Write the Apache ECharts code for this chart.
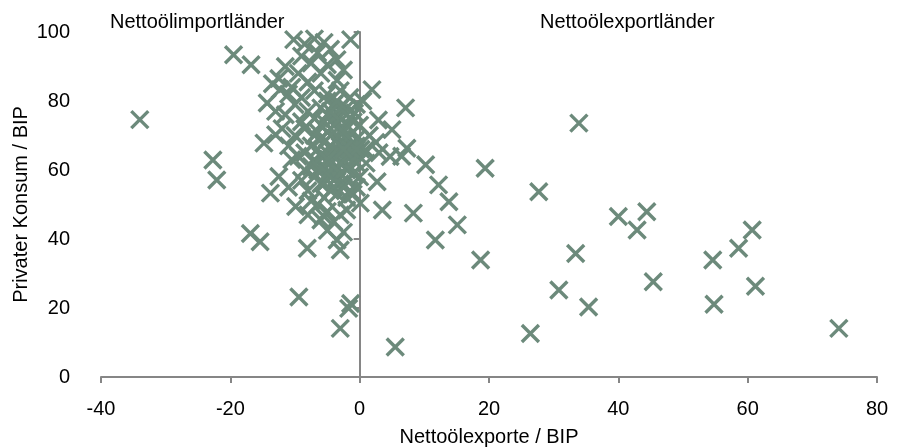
<!DOCTYPE html>
<html>
<head>
<meta charset="utf-8">
<script src="https://cdn.jsdelivr.net/npm/echarts@6/dist/echarts.min.js"></script>
<style>html,body{margin:0;padding:0;background:#fff}#c{width:906px;height:448px}</style>
</head>
<body>
<div id="c"></div>
<script>
// Net oil exports / GDP (x) vs private consumption / GDP (y)
const netOilExports = [
  -34.0,-19.5,-16.8,-22.7,-22.1,
  -10.2,-8.5,-7.0,-5.5,-4.5,-6.5,-9.0,-3.5,-7.5,-11.5,-5.0,-2.5,-9.5,-6.0,-12.5,-3.5,-8.0,-1.4,-13.5,-10.5,
  -12.3,-14.3,-11.0,-9.0,-7.0,-5.0,-3.0,-1.5,-0.5,0.5,-2.0,-4.0,-6.0,-8.0,-10.0,-11.5,-13.0,1.9,2.9,-0.8,-3.0,-5.0,-7.0,-9.0,
  -13.0,-14.8,-12.0,-10.0,-11.0,-8.5,-7.0,-6.0,-5.0,-4.0,-3.0,-2.0,-1.0,0.0,-0.5,-1.5,-2.5,-3.5,-4.5,-5.5,-6.5,-7.5,-8.5,-9.5,-10.5,
  -7.0,-6.0,-5.0,-4.0,-3.0,-2.0,-1.0,0.2,0.9,-0.5,-1.5,-2.5,-3.5,-4.5,-5.5,-6.5,-7.5,-8.5,
  5.0,7.3,4.7,10.2,6.5,1.5,2.5,1.0,3.0,-12.5,7.1,
  -4.0,-3.0,-2.0,-1.0,-3.0,-2.0,-4.0,-5.0,-6.0,-4.0,-2.0,-1.0,-3.0,-5.0,-2.5,-3.5,-1.5,-4.5,-5.5,-0.5,
  -5.5,-4.5,-3.5,-2.5,-1.5,-0.5,-6.0,-5.0,-4.0,-3.0,-2.0,-1.0,-6.5,-4.5,-2.5,
  -13.8,-9.9,-11.0,-9.0,-8.0,-7.0,-6.0,-5.0,-4.0,-3.0,-2.0,-1.0,0.0,-0.5,-1.5,-2.5,-3.5,-4.5,-5.5,-6.5,-7.5,
  -5.0,-3.0,-2.0,0.1,2.7,3.5,8.3,12.2,13.8,15.1,11.7,18.7,19.4,-4.0,-6.0,-8.0,-5.6,
  -16.9,-15.4,-8.1,-3.0,-3.5,-9.4,-1.4,-1.7,-3.0,5.5,-2.5,-5.0,
  33.9,27.7,40.0,44.4,42.9,45.4,54.6,58.6,60.7,61.2,54.8,74.1,33.4,30.8,35.4,26.4
];
const privateConsumption = [
  74.6,93.4,90.5,62.9,57.1,
  97.8,96.5,98.0,97.0,95.0,94.0,93.0,92.0,91.0,90.0,90.5,89.0,88.0,88.0,86.5,86.0,85.5,97.8,85.0,84.0,
  83.3,79.4,82.0,81.0,83.0,82.0,83.0,81.0,79.0,80.0,78.0,79.0,78.0,77.0,79.0,76.0,77.0,83.3,74.5,76.5,75.5,76.0,75.0,74.0,
  70.2,67.8,72.0,70.0,67.0,72.0,70.0,73.0,71.0,73.0,71.0,73.0,71.0,73.0,69.0,67.0,68.0,69.0,67.0,68.0,66.0,67.0,65.0,64.0,63.0,
  63.0,64.0,65.0,64.0,65.0,64.0,65.0,66.0,65.8,62.0,61.0,62.0,61.0,62.0,61.0,60.0,61.0,60.0,
  71.7,66.3,63.9,61.5,64.0,70.0,68.0,62.0,65.0,58.1,78.0,
  66.0,67.0,69.0,63.0,62.0,60.0,60.0,63.0,69.0,75.0,76.0,74.0,78.0,80.0,72.0,58.0,66.0,70.0,56.0,67.0,
  74.0,77.0,80.0,71.0,75.0,66.0,60.0,57.0,55.0,56.0,52.0,53.0,71.0,72.0,66.0,
  53.3,49.4,55.0,57.0,54.0,58.0,56.0,59.0,57.0,59.0,57.0,59.0,58.0,55.0,54.0,55.0,53.0,54.0,52.0,50.0,51.0,
  48.0,47.0,48.4,50.4,56.6,48.4,47.5,55.7,50.8,44.1,39.7,33.9,60.5,45.0,45.5,47.0,46.7,
  41.6,39.2,37.3,36.8,39.7,23.2,21.3,19.9,14.1,8.7,42.0,42.5,
  73.6,53.7,46.5,47.9,42.6,27.6,33.9,37.3,42.6,26.3,21.1,14.1,35.8,25.2,20.3,12.6
];
const xTicks = [-40, -20, 0, 20, 40, 60, 80];
const yTicks = [0, 20, 40, 60, 80, 100];
const xTitle = 'Nettoölexporte / BIP';
const yTitle = 'Privater Konsum / BIP';
const noteLeft = 'Nettoölimportländer';
const noteRight = 'Nettoölexportländer';

const points = netOilExports.map((x, i) => [x, privateConsumption[i]]);
const FONT = 'Liberation Sans, Arial, sans-serif';
const AXIS = '#868686';
const MARK = '#6c8a7b';
const FS = 20;

const GRID = {left: 101, right: 29, top: 32, bottom: 71, containLabel: false, outerBoundsMode: 'none'};
const xMin = xTicks[0], xMax = xTicks[xTicks.length - 1];

const chart = echarts.init(document.getElementById('c'), null, {renderer: 'canvas'});
// place the vertical axis line at x = 0 using the axis scale
const plotW = 906 - GRID.left - GRID.right;
const zeroOffset = -plotW * (0 - xMin) / (xMax - xMin);

chart.setOption({
  animation: false,
  backgroundColor: '#ffffff',
  grid: GRID,
  xAxis: {
    type: 'value', min: xMin, max: xMax, interval: 20,
    name: xTitle, nameLocation: 'middle', nameGap: 50, nameMoveOverlap: false,
    nameTextStyle: {fontFamily: FONT, fontSize: FS, color: '#000'},
    axisLine: {show: true, onZero: false, lineStyle: {color: AXIS, width: 2}},
    axisTick: {show: true, inside: false, length: 6, lineStyle: {color: AXIS, width: 2}},
    axisLabel: {fontFamily: FONT, fontSize: FS, color: '#000', margin: 22},
    splitLine: {show: false}
  },
  yAxis: [
    {
      type: 'value', min: yTicks[0], max: yTicks[yTicks.length - 1], interval: 20,
      name: yTitle, nameLocation: 'middle', nameGap: 70, nameMoveOverlap: false,
      nameTextStyle: {fontFamily: FONT, fontSize: FS, color: '#000'},
      axisLine: {show: false}, axisTick: {show: false},
      axisLabel: {fontFamily: FONT, fontSize: FS, color: '#000', margin: 31},
      splitLine: {show: false}
    },
    {
      type: 'value', min: yTicks[0], max: yTicks[yTicks.length - 1], interval: 20,
      position: 'left', offset: zeroOffset,
      axisLine: {show: true, onZero: false, lineStyle: {color: AXIS, width: 2}},
      axisTick: {show: true, inside: false, length: 6, lineStyle: {color: AXIS, width: 2}},
      axisLabel: {show: false},
      splitLine: {show: false}
    }
  ],
  graphic: [
    {type: 'text', left: 110, top: 12, style: {text: noteLeft, font: FS + 'px ' + FONT, fill: '#000'}},
    {type: 'text', left: 540, top: 12, style: {text: noteRight, font: FS + 'px ' + FONT, fill: '#000'}}
  ],
  series: [{
    type: 'scatter',
    yAxisIndex: 0,
    data: points,
    symbol: 'path://M0,0L10,10M10,0L0,10',
    symbolSize: 17,
    itemStyle: {color: 'rgba(0,0,0,0)', borderColor: MARK, borderWidth: 3.4, opacity: 1},
    z: 3
  }]
});
</script>
</body>
</html>
